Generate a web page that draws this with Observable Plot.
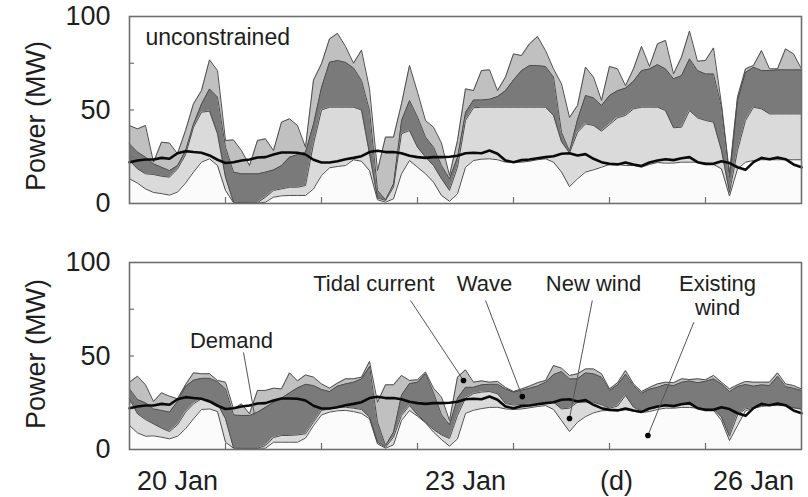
<!DOCTYPE html>
<html>
<head>
<meta charset="utf-8">
<script src="https://cdn.jsdelivr.net/npm/d3@7"></script>
<script src="https://cdn.jsdelivr.net/npm/@observablehq/plot@0.6"></script>
<style>
  html, body { margin: 0; padding: 0; background: #fff; }
  #chart { width: 808px; height: 497px; position: relative; overflow: hidden; }
  #chart svg { display: block; }
</style>
</head>
<body>
<div id="chart"></div>
<script>
// Time axis: hours after 20 Jan 00:00 (2-hourly samples)
const hours = [0,2,4,6,8,10,12,14,16,18,20,22,24,26,28,30,32,34,36,38,40,42,44,46,48,50,
  52,54,56,58,60,62,64,66,68,70,72,74,76,78,80,82,84,86,88,90,92,94,96,98,100,102,104,106,
  108,110,112,114,116,118,120,122,124,126,128,130,132,134,136,138,140,142,144,146,148,150,
  152,154,156,158,160,162,164,166,168];

// Day boundaries (tick marks) and day labels
const dayTicks = [24, 48, 72, 96, 120, 144];
const dayLabelHours = [12, 84, 156];
const dayLabels = ["20 Jan", "23 Jan", "26 Jan"];

// Demand (MW) - identical in both panels
const demand = [22.1,23.0,23.5,23.5,24.4,23.9,26.9,28.0,27.5,27.1,25.7,23.4,21.7,22.1,23.0,23.5,
  24.6,24.8,26.2,27.3,27.3,27.1,26.2,23.4,21.9,21.9,22.6,23.7,24.4,25.3,27.5,28.2,27.5,27.5,
  26.9,25.5,24.8,24.4,24.8,24.8,25.0,25.5,26.9,27.1,26.9,28.3,26.6,23.0,22.1,23.2,23.5,24.2,
  24.8,25.3,26.6,26.9,25.7,26.4,23.9,22.1,21.2,20.9,21.9,20.9,20.1,21.9,23.0,23.7,23.2,24.2,
  24.8,22.1,21.2,21.2,22.6,21.6,19.4,18.0,22.1,24.4,23.7,24.6,23.7,20.9,19.4];

// ---- Unconstrained panel: cumulative stack levels (MW) ----
const topExisting = [13.2,10.9,7.8,5.9,5.3,4.5,6.1,10.9,16.8,22.1,23.9,20.3,7.0,0.4,0.2,0.2,0.2,
  0.7,3.4,4.1,4.3,4.3,4.3,7.8,15.0,19.1,19.8,20.3,23.4,22.6,17.6,2.0,0.7,2.5,15.9,23.0,19.4,
  15.9,11.4,4.3,1.2,5.2,19.4,23.0,23.7,23.9,23.4,22.1,22.1,22.1,22.6,23.4,23.9,22.1,16.8,9.0,
  13.2,16.8,18.0,19.4,20.9,20.9,20.3,20.3,19.4,20.9,21.9,21.6,21.6,22.1,22.1,22.1,21.6,20.9,
  18.5,4.0,18.5,22.1,23.0,23.4,23.4,23.4,23.4,23.4,23.4];
const topNewWind = [23.0,18.5,15.9,15.5,14.6,14.1,18.5,26.0,40.8,48.8,49.4,37.3,14.0,0.7,0.5,0.4,
  0.4,3.4,7.0,7.8,8.7,8.7,9.6,31.9,50.0,51.5,51.5,51.5,51.5,50.0,26.6,3.0,1.6,8.7,37.3,39.0,
  30.1,24.8,20.3,13.2,7.0,19.4,44.4,51.2,51.5,51.5,51.5,51.5,51.5,51.5,51.5,51.5,51.5,47.1,
  33.0,27.0,38.0,42.6,41.7,38.7,42.2,45.8,47.1,50.6,51.5,51.5,51.5,49.7,40.5,40.8,49.7,45.8,
  44.4,43.5,28.3,6.0,28.3,44.4,51.5,50.6,47.9,47.9,47.9,47.9,47.9];
const topWave = [31.9,27.5,24.8,21.2,19.4,17.6,20.3,28.3,42.6,53.3,61.3,56.9,30.0,16.8,15.9,15.9,
  15.9,16.8,18.0,20.3,24.8,26.2,27.5,42.6,62.2,75.6,76.5,75.5,72.5,65.8,49.7,7.0,2.0,10.5,
  44.4,55.1,46.2,35.5,30.1,20.3,13.2,24.8,48.8,55.4,55.4,55.8,57.2,60.4,66.1,71.1,73.8,73.8,
  73.3,67.6,38.0,28.0,45.0,57.8,56.5,52.4,57.8,60.4,61.7,65.4,71.1,72.0,74.3,72.0,66.7,68.4,
  77.4,71.1,69.3,69.3,51.5,14.0,55.1,70.2,72.9,71.1,71.1,71.5,71.5,71.5,71.5];
const topTidal = [41.7,39.9,41.7,22.1,32.8,32.3,26.6,39.0,53.3,60.4,76.8,71.1,33.7,34.0,28.3,20.3,
  33.7,34.6,28.3,43.5,45.3,41.7,30.1,66.0,74.7,88.0,91.0,84.0,75.0,82.0,61.3,17.6,35.5,35.5,
  53.3,73.8,59.5,44.4,40.8,32.3,15.0,33.7,61.3,60.4,71.1,71.5,60.4,67.6,80.0,79.1,85.4,89.3,
  81.8,72.0,64.0,46.0,52.4,72.9,67.6,55.1,73.3,72.0,63.0,72.0,84.0,73.3,85.4,87.2,69.3,78.3,
  92.2,76.1,76.5,83.2,53.0,16.0,57.0,72.0,73.8,81.8,72.0,72.0,82.7,80.0,72.0];

// ---- Constrained panel (d): cumulative stack levels (MW) ----
const botExisting = [12.8,8.9,7.1,7.3,6.6,5.7,7.1,11.1,16.4,21.4,21.7,20.3,3.9,0.7,0.7,0.7,0.7,
  0.7,3.9,3.9,3.9,3.9,6.1,12.8,18.5,20.0,20.7,20.9,20.3,19.3,16.4,3.0,0.7,2.5,15.5,20.9,17.8,
  14.3,9.3,5.3,1.8,5.7,19.3,21.0,21.9,22.5,22.6,21.7,21.4,21.7,22.3,23.0,23.5,21.4,15.5,9.6,
  14.6,17.6,19.6,20.7,20.9,20.9,21.2,20.5,19.8,20.3,21.4,22.1,22.1,22.5,22.5,22.1,21.6,21.0,
  15.5,4.8,12.8,20.7,22.1,23.0,23.5,23.5,23.4,22.3,21.5];
const botNewWind = [27.1,19.1,16.0,13.7,11.4,9.6,13.2,20.0,24.4,27.1,26.6,24.4,16.4,0.9,0.7,0.7,
  0.7,2.1,6.4,7.5,7.5,7.8,8.4,14.6,20.9,21.7,22.5,22.6,22.1,21.4,17.3,3.9,1.2,6.6,18.2,23.5,
  18.5,14.6,10.7,7.8,5.9,18.2,27.5,29.9,30.7,31.0,29.8,24.6,23.7,24.1,24.2,24.2,25.3,25.3,
  21.7,22.1,25.3,25.3,25.3,23.9,22.1,23.2,28.9,22.6,20.7,21.6,22.6,23.5,23.5,24.2,24.1,22.6,
  21.9,21.7,17.3,7.1,18.5,21.7,22.6,23.5,24.4,23.9,23.4,22.5,21.7];
const botWave = [32.4,26.7,25.0,21.7,20.9,20.0,25.7,33.7,37.1,38.1,38.1,36.2,32.4,18.5,18.2,18.2,
  20.0,22.6,25.3,27.5,30.3,33.0,34.9,34.2,32.1,31.0,33.9,35.1,36.0,37.8,44.4,14.6,2.1,9.3,
  29.2,35.3,36.0,40.5,30.3,18.5,13.2,27.5,33.3,33.3,34.6,34.9,34.9,32.4,30.7,31.7,32.8,34.0,
  36.0,40.1,41.7,37.8,37.8,41.0,40.5,38.7,31.6,34.6,40.3,34.2,30.1,32.3,33.3,34.8,34.2,36.0,
  36.7,35.7,36.5,37.8,35.1,31.0,33.7,34.8,33.9,34.6,34.2,39.2,33.7,32.8,31.6];
const botTidal = [36.0,39.2,34.6,25.7,30.3,28.5,27.1,34.6,41.0,40.5,40.5,36.9,36.0,21.7,24.4,19.1,
  31.6,31.6,32.8,32.4,41.0,36.7,39.9,38.7,35.1,32.8,35.5,37.8,37.8,38.7,47.1,25.3,34.6,34.6,
  39.6,36.9,37.3,41.4,32.8,28.0,15.5,38.7,42.6,36.0,36.7,36.0,36.4,33.2,31.0,32.4,33.9,35.7,
  36.9,44.9,43.5,39.6,40.5,43.1,43.1,40.5,32.4,35.7,42.2,35.1,31.0,33.2,35.1,36.0,35.7,37.8,
  37.4,37.8,37.3,39.6,36.0,32.4,34.6,36.4,36.0,36.0,36.0,41.0,35.1,34.2,32.4];

// Annotations of panel (d)
const annLabels = ["Demand", "Tidal current", "Wave", "New wind", "Existing\nwind"];
const annHour = [25.5, 61.1, 88.75, 116, 147];
const annMW = [54.5, 84.5, 84.5, 84.5, 71.7];
const leaderFromHour = [28.5, 70.25, 89, 115.7, 141.1];
const leaderFromMW = [51.9, 79.7, 79.7, 79.7, 68.1];
const leaderToHour = [31.25, 83.5, 98.2, 110, 129.6];
const leaderToMW = [18.7, 36.9, 28.3, 16.6, 7.5];
const leaderHasDot = [false, true, true, true, true];

// ---------------------------------------------------------------
const FONT = "'Liberation Sans', Arial, Helvetica, sans-serif";
const fills = {existing: "#fbfbfb", newWind: "#dadada", wave: "#7a7a7a", tidal: "#c0c0c0"};
const edge = "#4d4d4d";
const frameColor = "#6e6e6e";

function rowsOf(e, n, w, t) {
  return hours.map((h, i) => ({h, e: e[i], n: n[i], w: w[i], t: t[i], d: demand[i]}));
}

function panel(rows, {height, marginTop, marginBottom, labelDy, extra}) {
  return Plot.plot({
    width: 808,
    height,
    marginLeft: 129,
    marginRight: 7,
    marginTop,
    marginBottom,
    style: {fontFamily: FONT, fontSize: "27px", color: "#1e1e1e", background: "#fff", overflow: "visible"},
    x: {domain: [0, 168], axis: null},
    y: {domain: [0, 100], axis: null},
    marks: [
      Plot.areaY(rows, {x: "h", y1: 0, y2: "e", fill: fills.existing}),
      Plot.areaY(rows, {x: "h", y1: "e", y2: "n", fill: fills.newWind}),
      Plot.areaY(rows, {x: "h", y1: "n", y2: "w", fill: fills.wave}),
      Plot.areaY(rows, {x: "h", y1: "w", y2: "t", fill: fills.tidal}),
      ...["e", "n", "w", "t"].map(k => Plot.lineY(rows, {x: "h", y: k, stroke: edge, strokeWidth: 1})),
      Plot.lineY(rows, {x: "h", y: "d", stroke: "#0a0a0a", strokeWidth: 2.6}),
      Plot.frame({stroke: frameColor, strokeWidth: 1.6}),
      Plot.axisY({ticks: [0, 50, 100], tickSize: 0, tickPadding: 19, label: null, fontSize: 27}),
      Plot.axisY({ticks: [25, 50, 75], tickSize: 5, dx: 5, fill: "none", label: null, stroke: frameColor, strokeWidth: 1.2}),
      Plot.axisX({ticks: dayTicks, tickSize: 6, dy: -6, fill: "none", label: null, stroke: frameColor, strokeWidth: 1.2}),
      Plot.text(["Power (MW)"], {frameAnchor: "left", dx: -93, dy: labelDy, rotate: -90,
        textAnchor: "middle", lineAnchor: "middle", fontSize: 27}),
      ...extra
    ]
  });
}

const topRows = rowsOf(topExisting, topNewWind, topWave, topTidal);
const botRows = rowsOf(botExisting, botNewWind, botWave, botTidal);

const topChart = panel(topRows, {
  height: 230, marginTop: 16, marginBottom: 27, labelDy: 6,
  extra: [
    Plot.text([{h: 4, v: 84.5, s: "unconstrained"}], {x: "h", y: "v", text: "s",
      textAnchor: "start", lineAnchor: "bottom", fontSize: 23})
  ]
});

const ann = annLabels.map((s, i) => ({
  s, h: annHour[i], v: annMW[i],
  x1: leaderFromHour[i], y1: leaderFromMW[i], x2: leaderToHour[i], y2: leaderToMW[i], dot: leaderHasDot[i]
}));

const botChart = panel(botRows, {
  height: 267, marginTop: 32, marginBottom: 48, labelDy: -2,
  extra: [
    Plot.axisX({ticks: dayLabelHours, tickFormat: d => dayLabels[dayLabelHours.indexOf(d)],
      tickSize: 0, tickPadding: 21, label: null, fontSize: 27}),
    Plot.text([{h: 121.75, s: "(d)"}], {x: "h", text: "s", frameAnchor: "bottom",
      lineAnchor: "top", dy: 21, fontSize: 27}),
    Plot.link(ann, {x1: "x1", y1: "y1", x2: "x2", y2: "y2", stroke: "#555", strokeWidth: 1}),
    Plot.dot(ann.filter(d => d.dot), {x: "x2", y: "y2", r: 2.8, fill: "#000", stroke: "none"}),
    Plot.text(ann, {x: "h", y: "v", text: "s", textAnchor: "middle", lineAnchor: "bottom",
      lineHeight: 1.09, fontSize: 22, fill: "#1e1e1e"})
  ]
});

const host = document.getElementById("chart");
host.appendChild(topChart);
host.appendChild(botChart);
</script>
</body>
</html>
